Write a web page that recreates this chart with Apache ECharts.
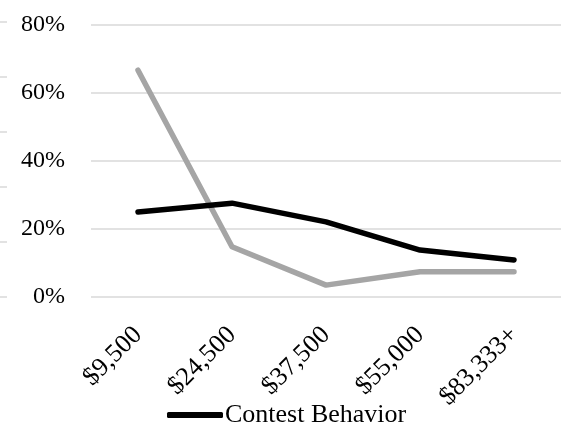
<!DOCTYPE html>
<html>
<head>
<meta charset="utf-8">
<script src="https://cdn.jsdelivr.net/npm/echarts@6/dist/echarts.min.js"></script>
<style>
  html, body { margin: 0; padding: 0; background: #fff; }
  #chart { width: 561px; height: 435px; }
</style>
</head>
<body>
<div id="chart"></div>
<script>
// Income brackets along the bottom axis
const incomeBrackets = ['$9,500', '$24,500', '$37,500', '$55,000', '$83,333+'];

// Share of respondents per bracket (percent)
const contestBehavior = [25.0, 27.6, 22.1, 13.8, 10.9];
const otherSeries = [66.7, 14.8, 3.5, 7.4, 7.4];

// Percent axis ticks
const percentTicks = [0, 20, 40, 60, 80];

const FONT = '"Liberation Serif", "Times New Roman", serif';

const chart = echarts.init(document.getElementById('chart'), null, { renderer: 'canvas' });

chart.setOption({
  backgroundColor: '#ffffff',
  animation: false,
  legend: {
    data: ['Contest Behavior'],
    left: 162,
    bottom: 2,
    itemWidth: 56,
    itemHeight: 6,
    itemGap: 4,
    icon: 'roundRect',
    textStyle: { fontFamily: FONT, fontSize: 26, color: '#000', padding: [0, 0, 0, -3] }
  },
  grid: [
    { left: 91, top: 25, width: 476, height: 272 },
    { left: 7, top: 22, width: 1, height: 275 }
  ],
  xAxis: [
    {
      type: 'category',
      gridIndex: 0,
      data: incomeBrackets,
      boundaryGap: true,
      axisLine: { show: false },
      axisTick: { show: false },
      axisLabel: {
        rotate: 45,
        margin: 34,
        fontFamily: FONT,
        fontSize: 26,
        color: '#000'
      }
    },
    { type: 'value', gridIndex: 1, show: false }
  ],
  yAxis: [
    {
      type: 'value',
      gridIndex: 0,
      min: percentTicks[0],
      max: percentTicks[percentTicks.length - 1],
      interval: 20,
      axisLine: { show: false },
      axisTick: { show: false },
      axisLabel: {
        margin: 26,
        formatter: '{value}%',
        fontFamily: FONT,
        fontSize: 24,
        color: '#000'
      },
      splitLine: { lineStyle: { color: '#d9d9d9', width: 1.5 } }
    },
    {
      // faint tick marks along the left edge
      type: 'value',
      gridIndex: 1,
      min: 0,
      max: 100,
      interval: 20,
      axisLine: { show: false },
      axisLabel: { show: false },
      splitLine: { show: false },
      axisTick: { show: true, length: 7, lineStyle: { color: '#d9d9d9', width: 1.5 } }
    }
  ],
  series: [
    {
      name: 'Other',
      type: 'line',
      xAxisIndex: 0,
      yAxisIndex: 0,
      data: otherSeries,
      symbol: 'none',
      z: 2,
      lineStyle: { color: '#a5a5a5', width: 5.5, cap: 'round', join: 'round' },
      itemStyle: { color: '#a5a5a5' }
    },
    {
      name: 'Contest Behavior',
      type: 'line',
      xAxisIndex: 0,
      yAxisIndex: 0,
      data: contestBehavior,
      symbol: 'none',
      z: 3,
      lineStyle: { color: '#000000', width: 5.5, cap: 'round', join: 'round' },
      itemStyle: { color: '#000000' }
    }
  ]
});
</script>
</body>
</html>
